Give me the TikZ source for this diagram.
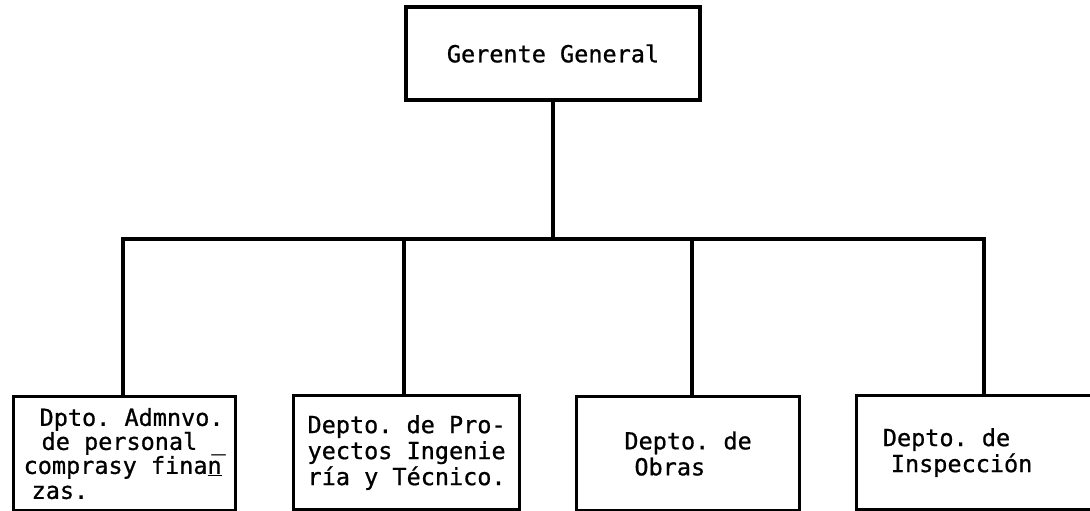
\documentclass[tikz,border=0pt]{standalone}
\usepackage{fontspec}
\setmonofont{DejaVu Sans Mono}[FakeBold=0.8]

\begin{document}
\begin{tikzpicture}[x=1pt,y=-1pt,line width=3.2pt,
  box/.style={draw,rectangle,font=\ttfamily\fontsize{23.5}{26}\selectfont,align=left},
  dept/.style={box,anchor=north west,minimum height=114pt}]
  \useasboundingbox[fill=white] (0,0) rectangle (1090,511);
  \clip (0,0) rectangle (1090,511);
  % top
  \node[box,minimum width=294pt,minimum height=93pt] (gerente) at (553,53.5) {Gerente General};
  % departments
  \node[dept,minimum width=222pt,inner sep=1pt] (admin) at (12,395)
    {\hspace{16pt}Dpto. Admnvo.\\[-2pt] \hspace{18pt}de personal \_\\[-2pt] comprasy fina\underline{n}\\[-1pt] \hspace{8pt}zas.};
  \node[dept,minimum width=226pt] (proy) at (292,394)
    {Depto. de Pro-\\ yectos Ingenie\\ ría y Técnico.};
  \node[dept,minimum width=223pt] (obras) at (575,395)
    {Depto. de\\ \hspace{10pt}Obras};
  \node[dept,minimum width=250pt] (insp) at (855,394)
    {Depto. de\\ \hspace{8pt}Inspección\rule{48pt}{0pt}};
  % connectors
  \coordinate (d1) at (123,239);
  \coordinate (d2) at (404,239);
  \coordinate (d3) at (692,239);
  \coordinate (d4) at (984,239);
  \draw (gerente.south) -- (gerente.south |- d1);
  \draw (d1 |- admin.north) -- (d1) -- (d4) -- (d4 |- insp.north);
  \draw (d2) -- (d2 |- proy.north);
  \draw (d3) -- (d3 |- obras.north);
\end{tikzpicture}
\end{document}
